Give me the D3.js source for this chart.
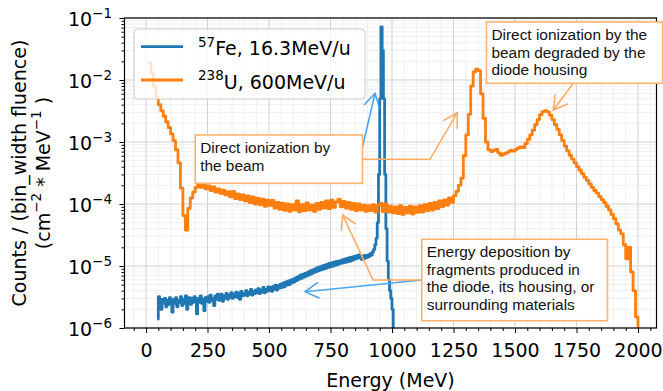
<!DOCTYPE html>
<html><head><meta charset="utf-8">
<script src="https://cdn.jsdelivr.net/npm/d3@7"></script>
<style>
html,body{margin:0;padding:0;background:#fff;}
svg{display:block;}
</style></head><body>
<svg id="chart" width="663" height="391"></svg>
<script>
// 238U, 600 MeV/u — counts per bin-width fluence, 10 MeV bins starting at 10 MeV
const uBinStart = 10, uBinWidth = 10;
const uCounts = [
  1.9e-2, 1.3e-2, 8.0e-3, 5.2e-3, 4.0e-3, 3.2e-3, 2.6e-3, 2.1e-3, 1.7e-3, 1.35e-3,
  1.05e-3, 7.5e-4, 4.6e-4, 1.8e-4, 6.5e-5, 3.8e-5, 8.5e-5, 1.25e-4, 1.55e-4, 1.85e-4,
  2.05e-4, 1.85e-4, 2.15e-4, 1.75e-4, 1.95e-4, 1.65e-4, 1.88e-4, 1.55e-4, 1.75e-4, 1.48e-4,
  1.68e-4, 1.4e-4, 1.58e-4, 1.3e-4, 1.6e-4, 1.22e-4, 1.45e-4, 1.18e-4, 1.4e-4, 1.12e-4,
  1.35e-4, 1.05e-4, 1.3e-4, 1.0e-4, 1.24e-4, 9.8e-5, 1.2e-4, 9.2e-5, 1.15e-4, 9.5e-5,
  1.14e-4, 8.6e-5, 1.06e-4, 8.2e-5, 1.03e-4, 7.9e-5, 1.0e-4, 7.6e-5, 9.8e-5, 8.0e-5,
  1.12e-4, 7.5e-5, 9.8e-5, 7.8e-5, 1.04e-4, 8.0e-5, 9.6e-5, 7.6e-5, 1.02e-4, 8.2e-5,
  1.06e-4, 8.6e-5, 1.12e-4, 8.4e-5, 1.15e-4, 8.8e-5, 1.08e-4, 1.2e-4, 9.0e-5, 1.1e-4,
  8.6e-5, 1.06e-4, 8.2e-5, 1.02e-4, 7.8e-5, 1.0e-4, 8.0e-5, 9.6e-5, 7.6e-5, 9.4e-5,
  7.8e-5, 9.8e-5, 7.4e-5, 9.4e-5, 1.02e-4, 7.6e-5, 1.0e-4, 7.4e-5, 9.2e-5, 7.2e-5,
  9.0e-5, 7.0e-5, 9.4e-5, 6.8e-5, 8.8e-5, 7.2e-5, 9.2e-5, 6.9e-5, 9.0e-5, 7.3e-5,
  9.4e-5, 7.4e-5, 9.8e-5, 7.8e-5, 1.02e-4, 8.0e-5, 1.06e-4, 8.4e-5, 1.12e-4, 9.0e-5,
  1.16e-4, 9.6e-5, 1.26e-4, 1.06e-4, 1.36e-4, 1.6e-4, 2.0e-4, 2.6e-4, 6.0e-4, 1.3e-3,
  2.8e-3, 8.0e-3, 1.35e-2, 1.5e-2, 1.42e-2, 6.0e-3, 2.4e-3, 1.0e-3, 7.5e-4, 7.0e-4,
  7.3e-4, 7.6e-4, 6.7e-4, 6.1e-4, 6.4e-4, 6.6e-4, 7.0e-4, 7.3e-4, 7.1e-4, 7.6e-4,
  8.0e-4, 8.3e-4, 8.1e-4, 9.4e-4, 1.1e-3, 1.3e-3, 1.55e-3, 1.9e-3, 2.3e-3, 2.75e-3,
  3.1e-3, 3.2e-3, 3.05e-3, 2.7e-3, 2.3e-3, 1.9e-3, 1.6e-3, 1.3e-3, 1.05e-3, 8.6e-4,
  7.2e-4, 6.1e-4, 5.3e-4, 4.6e-4, 4.0e-4, 3.5e-4, 3.1e-4, 2.7e-4, 2.4e-4, 2.1e-4,
  1.85e-4, 1.65e-4, 1.5e-4, 1.32e-4, 1.18e-4, 1.05e-4, 9.2e-5, 8.0e-5, 6.8e-5, 5.8e-5,
  4.8e-5, 3.8e-5, 3.3e-5, 2.2e-5, 1.3e-5, 2.0e-5, 8.0e-6, 4.0e-6, 1.5e-6
];

// 57Fe, 16.3 MeV/u — 5 MeV bins starting at 45 MeV
const feBinStart = 45, feBinWidth = 5;
const feCounts = [
  1.4e-6,
  3.2e-6, 2.6e-6, 2.0e-6, 2.9e-6, 2.5e-6, 3.0e-6, 2.2e-6, 2.8e-6, 2.4e-6, 3.1e-6,
  2.7e-6, 1.8e-6, 2.9e-6, 2.5e-6, 3.1e-6, 2.2e-6, 2.8e-6, 2.6e-6, 3.2e-6, 2.3e-6,
  2.9e-6, 2.5e-6, 3.3e-6, 2.0e-6, 2.8e-6, 3.1e-6, 2.4e-6, 3.0e-6, 2.6e-6, 3.2e-6,
  2.7e-6, 1.7e-6, 3.0e-6, 2.6e-6, 3.3e-6, 2.5e-6, 2.9e-6, 1.9e-6, 3.1e-6, 2.7e-6,
  3.2e-6, 2.6e-6, 3.4e-6, 2.8e-6, 3.0e-6, 2.3e-6, 3.3e-6, 2.9e-6, 3.5e-6, 2.8e-6,
  3.1e-6, 3.5e-6, 2.7e-6, 3.3e-6, 3.0e-6, 3.6e-6, 2.9e-6, 3.4e-6, 3.1e-6, 3.7e-6,
  3.0e-6, 3.5e-6, 3.2e-6, 3.8e-6, 3.1e-6, 3.6e-6, 2.9e-6, 3.9e-6, 3.3e-6, 3.6e-6,
  3.4e-6, 4.0e-6, 3.3e-6, 3.8e-6, 3.5e-6, 4.2e-6, 3.4e-6, 3.9e-6, 3.6e-6, 4.1e-6,
  3.7e-6, 4.3e-6, 3.6e-6, 4.1e-6, 3.8e-6, 4.5e-6, 3.7e-6, 4.2e-6, 3.9e-6, 4.6e-6,
  4.0e-6, 4.5e-6, 3.9e-6, 4.7e-6, 4.2e-6, 4.9e-6, 4.1e-6, 4.8e-6, 4.4e-6, 5.1e-6,
  4.5e-6, 5.3e-6, 4.6e-6, 5.5e-6, 4.9e-6, 5.7e-6, 5.0e-6, 5.9e-6, 5.3e-6, 6.1e-6,
  5.5e-6, 6.4e-6, 5.8e-6, 6.7e-6, 6.1e-6, 7.1e-6, 6.3e-6, 7.3e-6, 6.6e-6, 7.6e-6,
  6.9e-6, 7.9e-6, 7.1e-6, 8.3e-6, 7.4e-6, 8.6e-6, 7.8e-6, 9.0e-6, 8.1e-6, 9.4e-6,
  8.4e-6, 9.7e-6, 8.7e-6, 1.0e-5, 8.9e-6, 1.03e-5, 9.2e-6, 1.07e-5, 9.5e-6, 1.1e-5,
  9.8e-6, 1.13e-5, 1.0e-5, 1.16e-5, 1.03e-5, 1.19e-5, 1.06e-5, 1.21e-5, 1.1e-5, 1.26e-5,
  1.12e-5, 1.29e-5, 1.15e-5, 1.33e-5, 1.18e-5, 1.36e-5, 1.2e-5, 1.39e-5, 1.25e-5, 1.43e-5,
  1.3e-5, 1.47e-5, 1.34e-5, 1.51e-5, 1.38e-5, 1.28e-5, 1.45e-5, 1.32e-5, 1.48e-5, 1.36e-5,
  1.5e-5, 1.42e-5, 1.58e-5, 1.5e-5, 1.7e-5, 1.85e-5, 2.2e-5, 2.8e-5,
  5.0e-5, 3.0e-4, 5.0e-3, 7.2e-2, 3.0e-2, 5.0e-3, 3.0e-4, 4.0e-5, 1.2e-5, 6.0e-6, 4.0e-6, 3.0e-6, 2.0e-6
];

const xTicks = [0, 250, 500, 750, 1000, 1250, 1500, 1750, 2000];
const yTicks = [1e-6, 1e-5, 1e-4, 1e-3, 1e-2, 1e-1];
const yTickExponents = ["−6", "−5", "−4", "−3", "−2", "−1"];
const seriesNames = [
  {mass: "57", rest: "Fe, 16.3MeV/u"},
  {mass: "238", rest: "U, 600MeV/u"}
];
const colors = {fe: "#1f77b4", u: "#ff7f0e"};

// text annotations: box corners and arrow points in (energy, counts)
const notes = [
  {lines: ["Direct ionization by", "the beam"], box: [[200, 1.30e-3], [880, 2.16e-4]]},
  {lines: ["Direct ionization by the", "beam degraded by the", "diode housing"], box: [[1384, 8.62e-2], [2100, 8.85e-3]]},
  {lines: ["Energy deposition by", "fragments produced in", "the diode, its housing, or", "surrounding materials"], box: [[1121, 2.70e-5], [1876, 1.31e-6]]}
];
const arrows = [
  {color: "#4ba4ee", pts: [[880, 8.3e-4], [931, 6.1e-3]]},
  {color: "#ffac62", pts: [[880, 5.26e-4], [1154.5, 5.26e-4], [1265.4, 2.97e-3]]},
  {color: "#ffac62", pts: [[1737, 8.85e-3], [1655.7, 3.28e-3]]},
  {color: "#4ba4ee", pts: [[1121, 5.94e-6], [646.3, 3.85e-6]]},
  {color: "#ffac62", pts: [[1121, 5.94e-6], [922.8, 5.94e-6], [799.6, 6.65e-5]]}
];

const plot = {left: 124.5, right: 656.5, top: 18, bottom: 328};
const svg = d3.select("#chart");
const x = d3.scaleLinear().domain([-87.4, 2075.2]).range([plot.left, plot.right]);
const y = d3.scaleLog().domain([1e-6, 1e-1]).range([plot.bottom, plot.top]);

svg.append("defs").append("clipPath").attr("id", "plotClip")
  .append("rect").attr("x", plot.left).attr("y", plot.top)
  .attr("width", plot.right - plot.left).attr("height", plot.bottom - plot.top);

// grid
const xMinor = d3.range(-50, 2076, 50).filter(v => v % 250 !== 0);
const yMinor = [];
for (let k = -6; k <= -2; k++) for (let m = 2; m <= 9; m++) yMinor.push(m * Math.pow(10, k));
const grid = svg.append("g");
grid.selectAll(".gxm").data(xMinor).join("line")
  .attr("x1", d => x(d)).attr("x2", d => x(d)).attr("y1", plot.top).attr("y2", plot.bottom)
  .attr("stroke", "#ececec").attr("stroke-width", 0.8);
grid.selectAll(".gym").data(yMinor).join("line")
  .attr("y1", d => y(d)).attr("y2", d => y(d)).attr("x1", plot.left).attr("x2", plot.right)
  .attr("stroke", "#ececec").attr("stroke-width", 0.8);
grid.selectAll(".gx").data(xTicks).join("line")
  .attr("x1", d => x(d)).attr("x2", d => x(d)).attr("y1", plot.top).attr("y2", plot.bottom)
  .attr("stroke", "#d2d2d2").attr("stroke-width", 1);
grid.selectAll(".gy").data(yTicks).join("line")
  .attr("y1", d => y(d)).attr("y2", d => y(d)).attr("x1", plot.left).attr("x2", plot.right)
  .attr("stroke", "#d2d2d2").attr("stroke-width", 1);

// histogram step lines
function stepPoints(start, width, vals) {
  const pts = vals.map((v, i) => [start + i * width, v]);
  pts.push([start + vals.length * width, 1e-9]);
  return pts;
}
const stepLine = d3.line().x(d => x(d[0])).y(d => y(d[1])).curve(d3.curveStepAfter);
const curves = svg.append("g").attr("clip-path", "url(#plotClip)");
curves.append("path").datum(stepPoints(feBinStart, feBinWidth, feCounts))
  .attr("d", stepLine).attr("fill", "none").attr("stroke", colors.fe)
  .attr("stroke-width", 2.8).attr("stroke-linejoin", "round");
curves.append("path").datum(stepPoints(uBinStart, uBinWidth, uCounts))
  .attr("d", stepLine).attr("fill", "none").attr("stroke", colors.u)
  .attr("stroke-width", 2.8).attr("stroke-linejoin", "round");

// axes
const font = "'DejaVu Sans', sans-serif";
const xAxis = svg.append("g").attr("transform", `translate(0,${plot.bottom})`)
  .call(d3.axisBottom(x).tickValues(xTicks).tickSize(5).tickPadding(11).tickSizeOuter(0).tickFormat(d => d));
xAxis.append("g").call(d3.axisBottom(x).tickValues(xMinor).tickSize(3).tickSizeOuter(0).tickFormat(""));
xAxis.selectAll(".domain").remove();
xAxis.selectAll("text").attr("font-family", font).attr("font-size", 19).attr("fill", "#000");
xAxis.selectAll("line").attr("stroke", "#000").attr("stroke-width", 1);

const yAxis = svg.append("g").attr("transform", `translate(${plot.left},0)`)
  .call(d3.axisLeft(y).tickValues(yTicks).tickSize(5).tickSizeOuter(0).tickFormat(""));
yAxis.append("g").call(d3.axisLeft(y).tickValues(yMinor).tickSize(3).tickSizeOuter(0).tickFormat(""));
yAxis.selectAll(".domain").remove();
yAxis.selectAll("line").attr("stroke", "#000").attr("stroke-width", 1);

const yLab = svg.append("g").attr("font-family", font).attr("fill", "#000");
yTicks.forEach((t, i) => {
  const tx = yLab.append("text").attr("x", 112).attr("y", y(t) + 8).attr("text-anchor", "end").attr("font-size", 19);
  tx.append("tspan").text("10");
  tx.append("tspan").attr("font-size", 13.5).attr("dy", -8.5).text(yTickExponents[i]);
});

// frame
svg.append("rect").attr("x", plot.left).attr("y", plot.top)
  .attr("width", plot.right - plot.left).attr("height", plot.bottom - plot.top)
  .attr("fill", "none").attr("stroke", "#000").attr("stroke-width", 1.2);

// axis titles
svg.append("text").attr("x", (plot.left + plot.right) / 2).attr("y", 386.5)
  .attr("text-anchor", "middle").attr("font-family", font).attr("font-size", 19)
  .text("Energy (MeV)");
const ymid = (plot.top + plot.bottom) / 2;
svg.append("text").attr("transform", `translate(26,${ymid}) rotate(-90)`)
  .attr("text-anchor", "middle").attr("font-family", font).attr("font-size", 19)
  .text("Counts / (bin_width fluence)");
const yl2 = svg.append("text").attr("transform", `translate(49.5,${ymid}) rotate(-90)`)
  .attr("text-anchor", "middle").attr("font-family", font).attr("font-size", 19);
yl2.append("tspan").text("(cm");
yl2.append("tspan").attr("font-size", 13.5).attr("dy", -8.5).text("−2");
yl2.append("tspan").attr("dy", 8.5).text(" * MeV");
yl2.append("tspan").attr("font-size", 13.5).attr("dy", -8.5).text("−1");
yl2.append("tspan").attr("dy", 8.5).text(" )");

// annotation arrows
const ann = svg.append("g");
arrows.forEach(a => {
  const p = a.pts.map(d => [x(d[0]), y(d[1])]);
  ann.append("path").attr("d", d3.line()(p)).attr("fill", "none")
    .attr("stroke", a.color).attr("stroke-width", 1.6);
  const tip = p[p.length - 1], prev = p[p.length - 2];
  const ang = Math.atan2(prev[1] - tip[1], prev[0] - tip[0]);
  const L = 16, h = Math.PI / 6;
  const h1 = [tip[0] + L * Math.cos(ang + h), tip[1] + L * Math.sin(ang + h)];
  const h2 = [tip[0] + L * Math.cos(ang - h), tip[1] + L * Math.sin(ang - h)];
  ann.append("path").attr("d", d3.line()([h1, tip, h2])).attr("fill", "none")
    .attr("stroke", a.color).attr("stroke-width", 1.6).attr("stroke-linejoin", "miter");
});

// annotation boxes
notes.forEach(n => {
  const x0 = x(n.box[0][0]), y0 = y(n.box[0][1]);
  const x1 = x(n.box[1][0]), y1 = y(n.box[1][1]);
  ann.append("rect").attr("x", x0).attr("y", y0).attr("width", x1 - x0).attr("height", y1 - y0)
    .attr("fill", "#fff").attr("stroke", "#ffb26e").attr("stroke-width", 1.6);
  const t = ann.append("text").attr("font-family", "'Liberation Sans', Arial, sans-serif")
    .attr("font-size", 15.4).attr("fill", "#111");
  n.lines.forEach((line, i) => {
    t.append("tspan").attr("x", x0 + 5).attr("y", y0 + 18 + i * 17.6).text(line);
  });
});

// legend
const leg = svg.append("g");
leg.append("rect").attr("x", 134).attr("y", 29).attr("width", 231).attr("height", 70).attr("rx", 4)
  .attr("fill", "#fff").attr("fill-opacity", 0.8).attr("stroke", "#cccccc").attr("stroke-width", 1);
[colors.fe, colors.u].forEach((c, i) => {
  const cy = 46.7 + i * 33.3;
  leg.append("line").attr("x1", 141).attr("x2", 183).attr("y1", cy).attr("y2", cy)
    .attr("stroke", c).attr("stroke-width", 2.8);
  const t = leg.append("text").attr("x", 198).attr("y", cy + 8.6)
    .attr("font-family", font).attr("font-size", 19).attr("fill", "#000");
  t.append("tspan").attr("font-size", 13.5).attr("dy", -8.5).text(seriesNames[i].mass);
  t.append("tspan").attr("dy", 8.5).text(seriesNames[i].rest);
});
</script>
</body></html>
